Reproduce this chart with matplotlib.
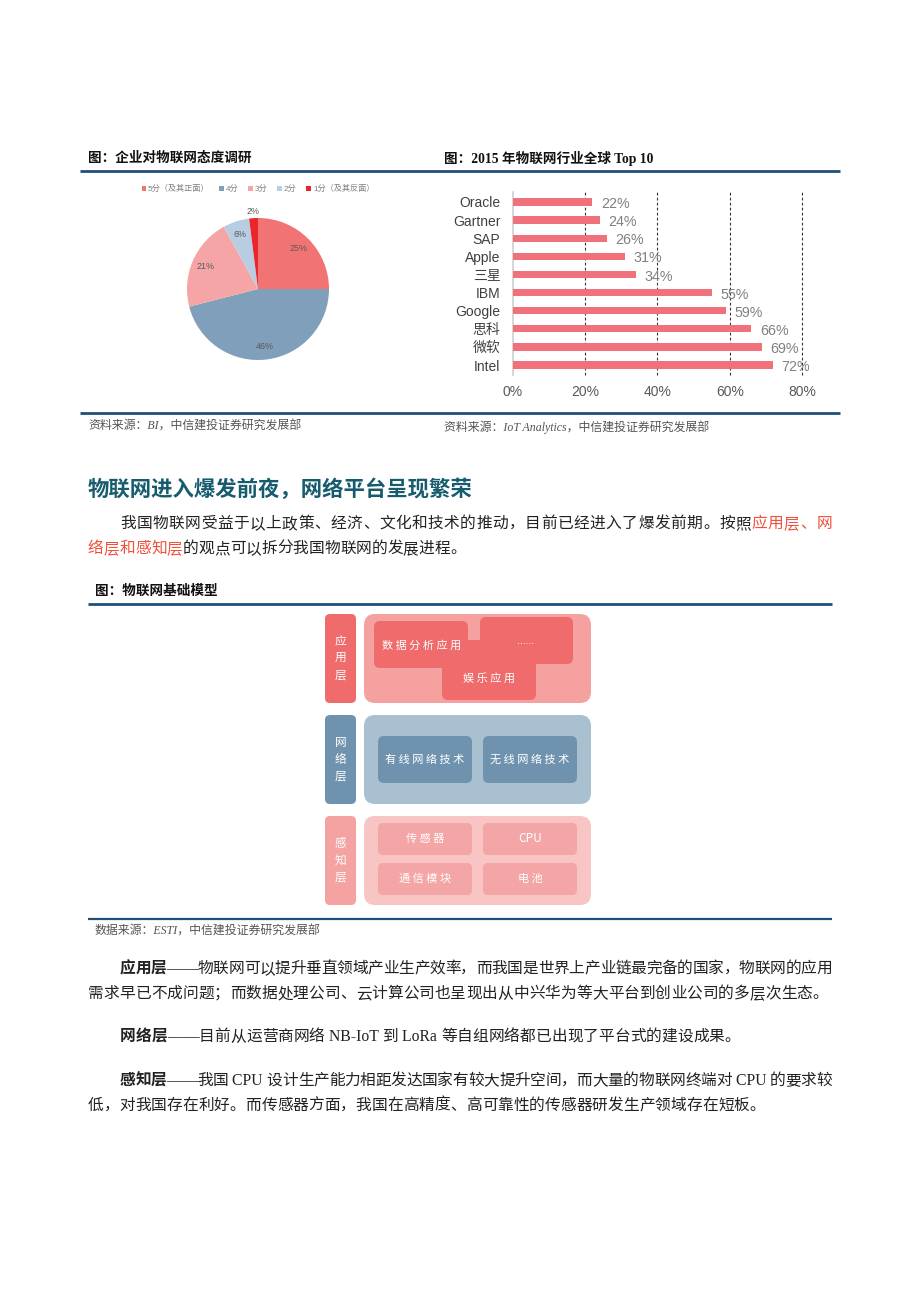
import matplotlib
matplotlib.use('Agg')
import matplotlib.pyplot as plt
from matplotlib.patches import FancyBboxPatch, Patch
import numpy as np

W, H = 920, 1302
CJK = 'Noto Sans CJK SC'
SERIF = ['Liberation Serif', CJK]
SANS = ['Liberation Sans', CJK]
plt.rcParams['font.family'] = SANS

# ---------------- data ----------------
pie_labels = ['5分（及其正面）', '4分', '3分', '2分', '1分（及其反面）']
pie_values = [25, 46, 21, 6, 2]
pie_colors = ['#f27373', '#7f9fba', '#f5a5a5', '#b9cde2', '#e8262b']

companies = ['Oracle', 'Gartner', 'SAP', 'Apple', '三星', 'IBM', 'Google', '思科', '微软', 'Intel']
shares = [22, 24, 26, 31, 34, 55, 59, 66, 69, 72]
x_ticks = [0, 20, 40, 60, 80]
x_tick_labels = ['0%', '20%', '40%', '60%', '80%']

layer_names = ['应用层', '网络层', '感知层']
app_items = ['数据分析应用', '......', '娱乐应用']
net_items = ['有线网络技术', '无线网络技术']
sense_items = ['传感器', 'CPU', '通信模块', '电池']

# ---------------- figure ----------------
fig = plt.figure(figsize=(W / 100, H / 100), dpi=100)
fig.patch.set_facecolor('white')
pg = fig.add_axes([0, 0, 1, 1])
pg.set_xlim(0, W)
pg.set_ylim(H, 0)
pg.axis('off')
renderer = fig.canvas.get_renderer()


def ax_px(l, t, w, h):
    return fig.add_axes([l / W, 1 - (t + h) / H, w / W, h / H])


def is_ascii(ch):
    return ord(ch) < 0x2000 and ch != '—'


def draw_line(x, y, segs, size, right=None, family=SERIF):
    tokens = []
    for text, color, weight in segs:
        buf = ''
        for ch in text:
            if is_ascii(ch):
                buf += ch
            else:
                if buf:
                    tokens.append((buf, color, weight))
                    buf = ''
                tokens.append((ch, color, weight))
        if buf:
            tokens.append((buf, color, weight))
    arts = []
    total = 0
    for tok, color, weight in tokens:
        t = pg.text(0, y, tok, fontsize=size, color=color, weight=weight,
                    family=family, ha='left', va='center')
        wpx = t.get_window_extent(renderer).width
        arts.append((t, wpx))
        total += wpx
    gap = 0
    if right is not None and len(arts) > 1:
        gap = (right - x - total) / (len(arts) - 1)
    cx = x
    for t, wpx in arts:
        t.set_x(cx)
        cx += wpx + gap


def hline(y, x0, x1, lw=2.0):
    pg.plot([x0, x1], [y, y], color='#1f4e79', lw=lw, solid_capstyle='butt')


# ---------------- headers ----------------
pg.text(88, 158, '图：企业对物联网态度调研', fontsize=9.8, weight='bold', family=[CJK],
        ha='left', va='center', color='#111111')
pg.text(444, 158, '图：2015 年物联网行业全球 Top 10', fontsize=9.8, weight='bold',
        family=['Liberation Serif', CJK], ha='left', va='center', color='#111111')
hline(170.5, 80, 840)
hline(413, 80, 840)
pg.text(88, 427, '资料来源：BI，中信建投证券研究发展部', fontsize=8.6, style='italic',
        family=SERIF, ha='left', va='center', color='#555555')
pg.text(444, 427, '资料来源：IoT Analytics，中信建投证券研究发展部', fontsize=8.6, style='italic',
        family=SERIF, ha='left', va='center', color='#555555')

# ---------------- pie ----------------
pax = ax_px(258 - 71, 289 - 71, 142, 142)
wedges, _ = pax.pie(pie_values, colors=pie_colors, startangle=90, counterclock=False,
                    radius=1)
for w, v in zip(wedges, pie_values):
    ang = np.deg2rad((w.theta1 + w.theta2) / 2)
    r = 1.1 if v < 5 else 0.81
    pax.text(r * np.cos(ang), r * np.sin(ang), f'{v}%', ha='center', va='center',
             fontsize=6.4, color='#5a5a5a', clip_on=False)
pax.set_xlim(-1, 1)
pax.set_ylim(-1, 1)

handles = [Patch(facecolor=c, edgecolor='none', label=l) for c, l in zip(pie_colors, pie_labels)]
leg = fig.legend(handles=handles, loc='center', bbox_to_anchor=(258 / W, 1 - 189 / H),
                 ncol=5, frameon=False, fontsize=5.9, handlelength=0.5, handleheight=0.5,
                 handletextpad=0.3, columnspacing=1.2, borderaxespad=0)
for t in leg.get_texts():
    t.set_color('#808080')

# ---------------- bar chart ----------------
bax = ax_px(513, 192, 289, 183)
ypos = np.arange(len(companies))
bax.barh(ypos, shares, height=0.4, color='#f0717b')
bax.set_xlim(0, 80)
bax.set_ylim(9.55, -0.55)
for xv in x_ticks[1:]:
    bax.axvline(xv, color='#333333', lw=0.8, ls=(0, (2.5, 2)), zorder=0, clip_on=False)
bax.axvline(0, color='#cfcfcf', lw=1.2, zorder=0, clip_on=False)
for s in bax.spines.values():
    s.set_visible(False)
bax.set_xticks(x_ticks)
bax.set_xticklabels(x_tick_labels, fontsize=10, color='#595959', family=SANS)
bax.set_yticks(ypos)
bax.set_yticklabels(companies, fontsize=10, color='#404040', family=SANS)
bax.tick_params(axis='x', length=0, pad=7)
bax.tick_params(axis='y', length=0, pad=9)
for i, v in enumerate(shares):
    bax.annotate(f'{v}%', (v, i), xytext=(6, -1.5), textcoords='offset points',
                 ha='left', va='center', fontsize=10.3, color='#808080', family=SANS,
                 annotation_clip=False)

# ---------------- section title and paragraph ----------------
pg.text(88, 489, '物联网进入爆发前夜，网络平台呈现繁荣', fontsize=15.4, weight='bold',
        family=[CJK], color='#175c6e', ha='left', va='center')
BLACK = '#222222'
RED = '#f0503c'
FS = 11.3
draw_line(120, 524, [('我国物联网受益于以上政策、经济、文化和技术的推动，目前已经进入了爆发前期。按照', BLACK, 'normal'),
                     ('应用层、网', RED, 'normal')], FS, right=832)
draw_line(88, 549, [('络层和感知层', RED, 'normal'),
                    ('的观点可以拆分我国物联网的发展进程。', BLACK, 'normal')], FS)

# ---------------- diagram ----------------
pg.text(95, 591, '图：物联网基础模型', fontsize=9.8, weight='bold', family=[CJK],
        ha='left', va='center', color='#111111')
hline(604, 88, 832)
hline(918.5, 88, 832, lw=1.6)


def rbox(x0, y0, x1, y1, color, r=7):
    pg.add_patch(FancyBboxPatch((x0 + r, y0 + r), x1 - x0 - 2 * r, y1 - y0 - 2 * r,
                                boxstyle=f'round,pad={r}', fc=color, ec='none'))


def box_text(cx, cy, s, size=8.0):
    txt = s if s.isascii() else ' '.join(s)
    pg.text(cx, cy, txt, fontsize=size, color='white', family=[CJK], ha='center',
            va='center', weight='medium' if not s.isascii() else 'normal')


label_cols = ['#f06c6c', '#6f93ae', '#f4a2a2']
big_cols = ['#f5a19f', '#a8c0cf', '#f9c4c4']
rows = [(614, 703), (715, 804), (816, 905)]
for (y0, y1), name, lc, bc in zip(rows, layer_names, label_cols, big_cols):
    rbox(325, y0, 356, y1, lc, r=5)
    rbox(364, y0, 591, y1, bc, r=11)
    cy = (y0 + y1) / 2
    for k, ch in enumerate(name):
        pg.text(340.5, cy + (k - 1) * 17, ch, fontsize=8.4, color='white', family=[CJK],
                ha='center', va='center')

APP = '#f06c6c'
rbox(374, 621, 468, 668, APP, r=6)
rbox(480, 617, 573, 664, APP, r=6)
rbox(442, 650, 536, 700, APP, r=6)
pg.add_patch(plt.Rectangle((442, 640), 40, 28, fc=APP, ec='none'))
box_text(422, 646, app_items[0])
pg.text(526, 641, app_items[1], fontsize=7.5, color='white', ha='center', va='center')
box_text(489, 678, app_items[2])

NET = '#6f93ae'
rbox(378, 736, 472, 783, NET, r=6)
rbox(483, 736, 577, 783, NET, r=6)
box_text(425, 760, net_items[0])
box_text(530, 760, net_items[1])

SEN = '#f4a6a6'
sense_boxes = [(378, 823, 472, 855), (483, 823, 577, 855), (378, 863, 472, 895), (483, 863, 577, 895)]
for (x0, y0, x1, y1), s in zip(sense_boxes, sense_items):
    rbox(x0, y0, x1, y1, SEN, r=5)
    box_text((x0 + x1) / 2, (y0 + y1) / 2, s, size=8.6 if s.isascii() else 8.0)

pg.text(95, 932, '数据来源：ESTI，中信建投证券研究发展部', fontsize=8.6, style='italic',
        family=SERIF, ha='left', va='center', color='#555555')

# ---------------- body paragraphs ----------------
draw_line(120, 969, [('应用层', BLACK, 'bold'),
                     ('——物联网可以提升垂直领域产业生产效率，而我国是世界上产业链最完备的国家，物联网的应用', BLACK, 'normal')],
          FS, right=832)
draw_line(88, 994, [('需求早已不成问题；而数据处理公司、云计算公司也呈现出从中兴华为等大平台到创业公司的多层次生态。', BLACK, 'normal')], FS)
draw_line(120, 1037, [('网络层', BLACK, 'bold'),
                      ('——目前从运营商网络 NB-IoT 到 LoRa 等自组网络都已出现了平台式的建设成果。', BLACK, 'normal')], FS)
draw_line(120, 1081, [('感知层', BLACK, 'bold'),
                      ('——我国 CPU 设计生产能力相距发达国家有较大提升空间，而大量的物联网终端对 CPU 的要求较', BLACK, 'normal')],
          FS, right=832)
draw_line(88, 1106, [('低，对我国存在利好。而传感器方面，我国在高精度、高可靠性的传感器研发生产领域存在短板。', BLACK, 'normal')], FS)

fig.savefig('out.png', dpi=100, facecolor='white')
